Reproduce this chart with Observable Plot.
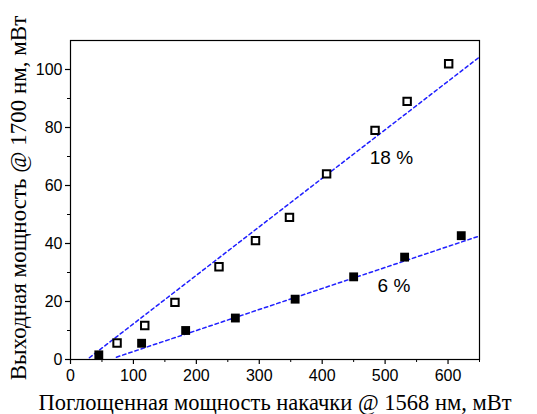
<!DOCTYPE html>
<html><head><meta charset="utf-8">
<script src="https://cdn.jsdelivr.net/npm/d3@7"></script>
<script src="https://cdn.jsdelivr.net/npm/@observablehq/plot@0.6"></script>
<style>body{margin:0;background:#fff}</style>
</head><body><div id="chart"></div>
<script>
const openX = [74, 118, 166, 236, 294, 348, 407, 484, 535, 601];
const openY = [5.7, 11.7, 19.7, 32, 41, 49, 64, 79, 89, 102];
const fillX = [45, 113, 183, 262, 357, 450, 531, 621];
const fillY = [1.6, 5.6, 10, 14.3, 20.8, 28.5, 35.3, 42.7];
const fit18X = [30, 650];
const fit18Y = [0.6, 104.3];
const fit6X = [73, 650];
const fit6Y = [0.8, 42.6];
const labels = [{x: 510, y: 69.5, t: "18 %"}, {x: 514, y: 25.4, t: "6 %"}];
const xTicks = [0, 100, 200, 300, 400, 500, 600];
const xMinor = [50, 150, 250, 350, 450, 550, 650];
const yTicks = [0, 20, 40, 60, 80, 100];
const yMinor = [10, 30, 50, 70, 90];
const xTitle = "Поглощенная мощность накачки @ 1568 нм, мВт";
const yTitle = "Выходная мощность @ 1700 нм, мВт";

const openData = openX.map((x, i) => ({x, y: openY[i]}));
const fillData = fillX.map((x, i) => ({x, y: fillY[i]}));
const f18 = fit18X.map((x, i) => ({x, y: fit18Y[i]}));
const f6 = fit6X.map((x, i) => ({x, y: fit6Y[i]}));

const chart = Plot.plot({
  width: 537, height: 414,
  marginLeft: 70, marginRight: 58, marginTop: 40, marginBottom: 55,
  style: {fontFamily: "'Liberation Sans', Arial, sans-serif", fontSize: "16px", color: "#000", background: "#fff", overflow: "visible"},
  x: {domain: [0, 650]},
  y: {domain: [0, 110]},
  marks: [
    Plot.frame({stroke: "#000", strokeWidth: 1.2}),
    Plot.axisX({ticks: xTicks, tickSize: 5, tickPadding: 5, label: null, fontSize: 16, stroke: "#000", strokeWidth: 1.2}),
    Plot.axisX({ticks: xMinor, tickSize: 3, text: null, label: null, stroke: "#000"}),
    Plot.axisY({ticks: yTicks, tickSize: 5, tickPadding: 3, label: null, fontSize: 16, stroke: "#000", strokeWidth: 1.2}),
    Plot.axisY({ticks: yMinor, tickSize: 3, text: null, label: null, stroke: "#000"}),
    Plot.line(f18, {x: "x", y: "y", stroke: "#1f1fff", strokeWidth: 1.5, strokeDasharray: "3.5,3"}),
    Plot.line(f6, {x: "x", y: "y", stroke: "#1f1fff", strokeWidth: 1.5, strokeDasharray: "3.5,3"}),
    Plot.dot(openData, {x: "x", y: "y", symbol: "square", r: 4.2, fill: "#fff", stroke: "#000", strokeWidth: 2}),
    Plot.dot(fillData, {x: "x", y: "y", symbol: "square", r: 5, fill: "#000", stroke: "none"}),
    Plot.text(labels, {x: "x", y: "y", text: "t", fontSize: 19, fill: "#000"}),
    Plot.text([xTitle], {frameAnchor: "bottom", textAnchor: "middle", dy: 50, fontFamily: "'Liberation Serif', 'Times New Roman', serif", fontSize: 22.5, fill: "#000"}),
    Plot.text([yTitle], {frameAnchor: "left", textAnchor: "middle", dx: -52, dy: -2, rotate: -90, fontFamily: "'Liberation Serif', 'Times New Roman', serif", fontSize: 23, fill: "#000"})
  ]
});
document.getElementById("chart").append(chart);
</script>
</body></html>
